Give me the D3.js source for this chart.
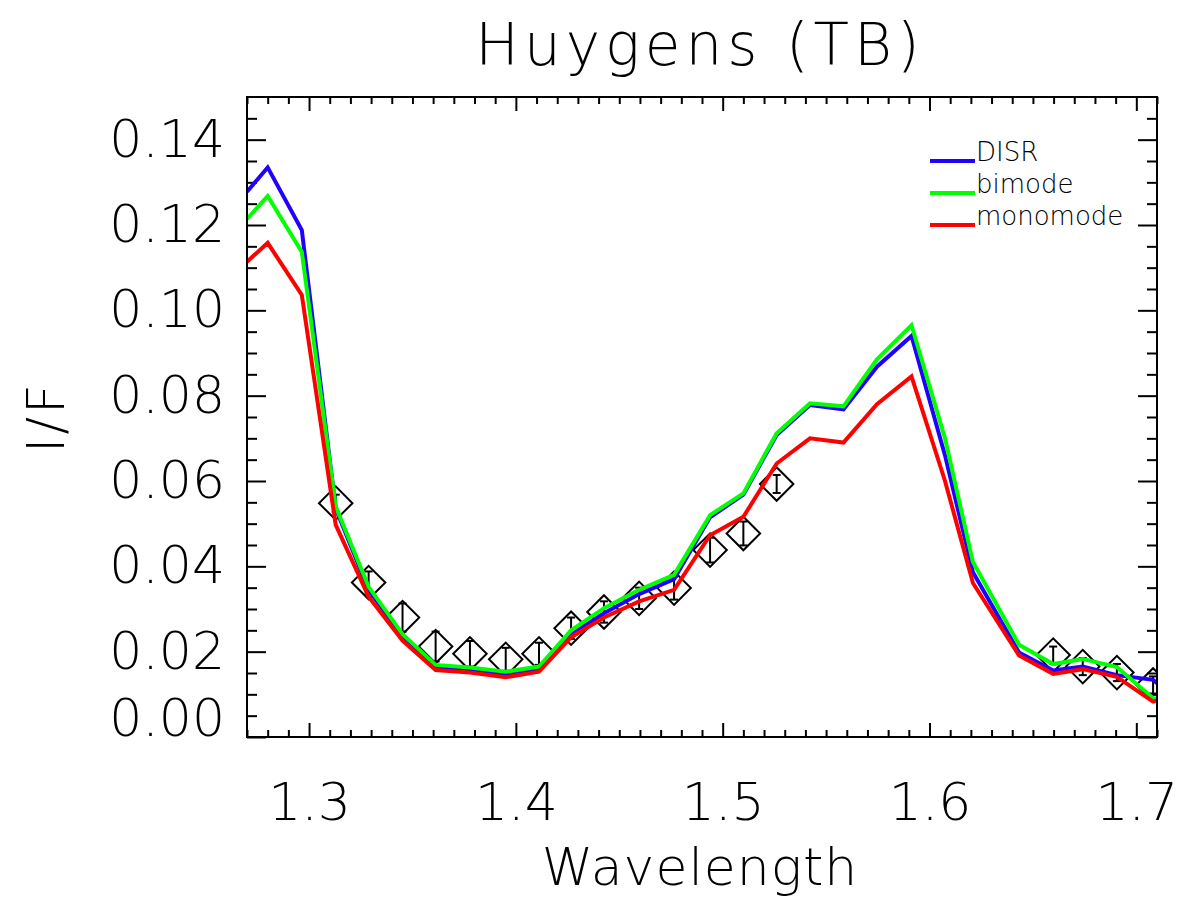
<!DOCTYPE html>
<html>
<head>
<meta charset="utf-8">
<script src="https://cdn.jsdelivr.net/npm/d3@7"></script>
<style>
  html, body { margin: 0; padding: 0; background: #fff; }
  svg { display: block; }
  text { font-family: "DejaVu Sans", sans-serif; font-weight: 200; fill: #000; }
</style>
</head>
<body>
<svg id="chart" width="1184" height="902"></svg>
<script>
// ---------------- data ----------------
const wavelength = [1.2700, 1.2800, 1.2965, 1.3129, 1.3288, 1.3452, 1.3612, 1.3778, 1.3951, 1.4112,
  1.4267, 1.4426, 1.4596, 1.4765, 1.4939, 1.5100, 1.5261, 1.5422, 1.5584, 1.5746,
  1.5913, 1.6075, 1.6210, 1.6433, 1.6598, 1.6741, 1.6906, 1.7081, 1.7100];

const disr = [0.1278, 0.1335, 0.1188, 0.0535, 0.0345, 0.0236, 0.0165, 0.0158, 0.0147, 0.0160,
  0.0240, 0.0290, 0.0335, 0.0370, 0.0515, 0.0568, 0.0708, 0.0778, 0.0768, 0.0868,
  0.0940, 0.0660, 0.0386, 0.0198, 0.0156, 0.0165, 0.0145, 0.0134, 0.0126];

const bimode = [0.1214, 0.1268, 0.1137, 0.0540, 0.0352, 0.0241, 0.0169, 0.0163, 0.0153, 0.0165,
  0.0250, 0.0302, 0.0345, 0.0380, 0.0520, 0.0571, 0.0712, 0.0782, 0.0775, 0.0885,
  0.0965, 0.0700, 0.0410, 0.0216, 0.0171, 0.0183, 0.0164, 0.0091, 0.0090];

const monomode = [0.1114, 0.1158, 0.1036, 0.0497, 0.0329, 0.0226, 0.0157, 0.0151, 0.0140, 0.0153,
  0.0234, 0.0280, 0.0318, 0.0345, 0.0473, 0.0516, 0.0641, 0.0700, 0.0690, 0.0780,
  0.0845, 0.0600, 0.0361, 0.0191, 0.0148, 0.0159, 0.0141, 0.0083, 0.0085];

// observed points (diamonds) with error bars
const obsWavelength = [1.3129, 1.3288, 1.3452, 1.3612, 1.3778, 1.3951, 1.4112, 1.4267, 1.4426,
  1.4596, 1.4765, 1.4939, 1.5100, 1.5261, 1.6598, 1.6741, 1.6906, 1.7081];
const obsValue = [0.0548, 0.0362, 0.0280, 0.0212, 0.0195, 0.0182, 0.0195, 0.0255, 0.0293,
  0.0325, 0.0349, 0.0438, 0.0477, 0.0593, 0.0192, 0.0165, 0.0151, 0.0122];
const obsError = [0.0020, 0.0026, 0.0033, 0.0035, 0.0030, 0.0027, 0.0026, 0.0025, 0.0025,
  0.0025, 0.0027, 0.0029, 0.0028, 0.0021, 0.0020, 0.0020, 0.0020, 0.0020];

const xTicks = [1.3, 1.4, 1.5, 1.6, 1.7];
const yTicks = [0.00, 0.02, 0.04, 0.06, 0.08, 0.10, 0.12, 0.14];

const seriesNames = ["DISR", "bimode", "monomode"];
const seriesColors = ["#2200ff", "#00ff00", "#ff0000"];
const seriesValues = [disr, bimode, monomode];

// ---------------- layout ----------------
const svg = d3.select("#chart");
const L = 247, R = 1157, T = 97, B = 737;
const W = R - L, H = B - T;

const x = d3.scaleLinear().domain([1.27, 1.71]).range([0, W]);
const y = d3.scaleLinear().domain([0, 0.15]).range([H, 0]);

const g = svg.append("g").attr("transform", `translate(${L},${T})`);

svg.append("defs").append("clipPath").attr("id", "clip")
  .append("rect").attr("x", 0).attr("y", 0).attr("width", W).attr("height", H);

const xMinor = d3.range(0, 45).map(i => +(1.27 + i * 0.01).toFixed(2)).filter(v => !xTicks.some(t => Math.abs(t - v) < 1e-9));
const yMinor = d3.range(0, 31).map(i => +(i * 0.005).toFixed(3)).filter(v => !yTicks.some(t => Math.abs(t - v) < 1e-9) && v < 0.15);

function styleAxis(sel) {
  sel.select(".domain").remove();
  sel.selectAll(".tick line").attr("stroke", "#000").attr("stroke-width", 2);
}

// minor ticks
g.append("g").attr("transform", `translate(0,${H})`)
  .call(d3.axisBottom(x).tickValues(xMinor).tickSize(-7).tickFormat("")).call(styleAxis);
g.append("g")
  .call(d3.axisTop(x).tickValues(xMinor).tickSize(-7).tickFormat("")).call(styleAxis);
g.append("g")
  .call(d3.axisLeft(y).tickValues(yMinor).tickSize(-10).tickFormat("")).call(styleAxis);
g.append("g").attr("transform", `translate(${W},0)`)
  .call(d3.axisRight(y).tickValues(yMinor).tickSize(-10).tickFormat("")).call(styleAxis);

// major ticks
const xAxisB = g.append("g").attr("transform", `translate(0,${H})`)
  .call(d3.axisBottom(x).tickValues(xTicks).tickSize(-14).tickPadding(46).tickFormat(d3.format(".1f")))
  .call(styleAxis);
g.append("g")
  .call(d3.axisTop(x).tickValues(xTicks).tickSize(-14).tickFormat("")).call(styleAxis);
const yAxisL = g.append("g")
  .call(d3.axisLeft(y).tickValues(yTicks).tickSize(-19).tickPadding(22).tickFormat(d3.format(".2f")))
  .call(styleAxis);
g.append("g").attr("transform", `translate(${W},0)`)
  .call(d3.axisRight(y).tickValues(yTicks).tickSize(-19).tickFormat("")).call(styleAxis);

xAxisB.selectAll("text").attr("font-size", 52).attr("font-family", "DejaVu Sans").attr("fill", "#000");
yAxisL.selectAll("text").attr("font-size", 52).attr("font-family", "DejaVu Sans").attr("fill", "#000");
// bottom label of y axis sits raised above the axis corner
yAxisL.selectAll(".tick").filter(d => d === 0).select("text").attr("dy", "-0.03em");

// ---------------- observations ----------------
const obs = g.append("g").attr("clip-path", "url(#clip)");
const obsData = obsWavelength.map((w, i) => ({ w, v: obsValue[i], e: obsError[i] }));
obs.selectAll("path.diamond").data(obsData).enter().append("path")
  .attr("class", "diamond")
  .attr("d", d3.symbol().type(d3.symbolSquare).size(560))
  .attr("transform", d => `translate(${x(d.w)},${y(d.v)}) rotate(45)`)
  .attr("fill", "none").attr("stroke", "#000").attr("stroke-width", 2);
const eb = obs.selectAll("g.err").data(obsData).enter().append("g").attr("class", "err");
eb.append("line")
  .attr("x1", d => x(d.w)).attr("x2", d => x(d.w))
  .attr("y1", d => y(d.v - d.e)).attr("y2", d => y(d.v + d.e))
  .attr("stroke", "#000").attr("stroke-width", 2);
eb.append("line")
  .attr("x1", d => x(d.w) - 4).attr("x2", d => x(d.w) + 4)
  .attr("y1", d => y(d.v + d.e)).attr("y2", d => y(d.v + d.e))
  .attr("stroke", "#000").attr("stroke-width", 2);
eb.append("line")
  .attr("x1", d => x(d.w) - 4).attr("x2", d => x(d.w) + 4)
  .attr("y1", d => y(d.v - d.e)).attr("y2", d => y(d.v - d.e))
  .attr("stroke", "#000").attr("stroke-width", 2);

// ---------------- model lines ----------------
const lines = g.append("g").attr("clip-path", "url(#clip)");
const lineGen = d3.line().x(d => x(d[0])).y(d => y(d[1]));
seriesValues.forEach((vals, i) => {
  lines.append("path")
    .datum(wavelength.map((w, j) => [w, vals[j]]))
    .attr("d", lineGen)
    .attr("fill", "none")
    .attr("stroke", seriesColors[i])
    .attr("stroke-width", 4)
    .attr("stroke-linejoin", "miter");
});

// frame
g.append("rect").attr("x", 0).attr("y", 0).attr("width", W).attr("height", H)
  .attr("fill", "none").attr("stroke", "#000").attr("stroke-width", 2);

// ---------------- legend ----------------
const leg = svg.append("g");
seriesNames.forEach((name, i) => {
  const ly = 161 + i * 32;
  leg.append("line").attr("x1", 930).attr("x2", 975).attr("y1", ly).attr("y2", ly)
    .attr("stroke", seriesColors[i]).attr("stroke-width", 4);
  leg.append("text").attr("x", 976).attr("y", ly).attr("font-size", 26).text(name);
});

// ---------------- titles ----------------
svg.append("text").attr("x", 700).attr("y", 65).attr("text-anchor", "middle")
  .attr("font-size", 58).attr("letter-spacing", 5).text("Huygens (TB)");
svg.append("text").attr("x", 700).attr("y", 885).attr("text-anchor", "middle")
  .attr("font-size", 52).attr("letter-spacing", 1).text("Wavelength");
svg.append("text").attr("transform", "translate(64,417) rotate(-90)").attr("text-anchor", "middle")
  .attr("font-size", 52).attr("letter-spacing", 3).text("I/F");
</script>
</body>
</html>
